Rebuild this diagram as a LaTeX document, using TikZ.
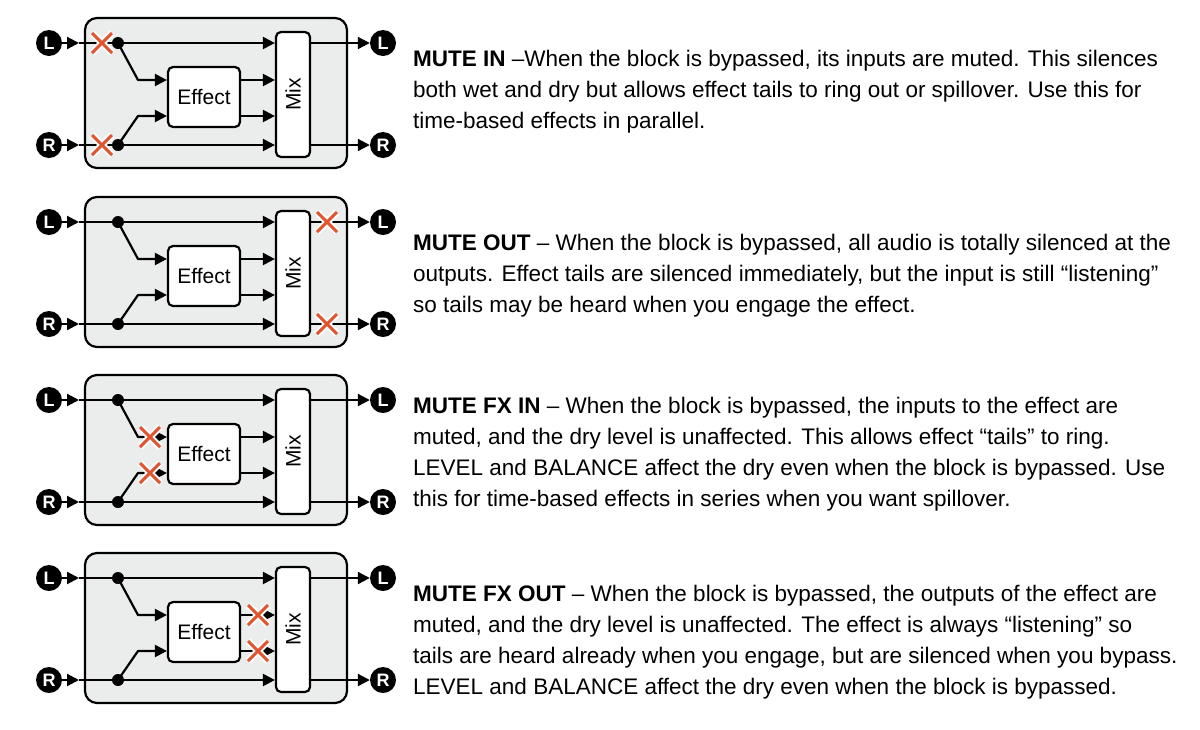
\documentclass[tikz,border=0pt]{standalone}
\usepackage{fontspec}
\setmainfont{Liberation Sans}
\usetikzlibrary{arrows.meta,calc}
\definecolor{boxgray}{HTML}{EBECEC}
\definecolor{xred}{HTML}{E05530}
\tikzset{
  wire/.style={line width=2.2pt,black},
  arr/.style={wire,-{Triangle[length=12pt,width=12pt]}},
  blk/.style={draw,line width=2.2pt,fill=white,rounded corners=5pt,inner sep=0pt},
  port/.style={circle,fill=black,minimum size=26pt,inner sep=0pt,text=white,font=\bfseries\fontsize{18}{18}\selectfont},
  dot/.style={circle,fill=black,minimum size=12pt,inner sep=0pt},
  desc/.style={anchor=west,inner sep=0pt,font=\fontsize{22.5}{22.5}\selectfont},
}
\newcommand\xmark[1]{%
  \draw[white,line width=7pt] ($(#1)+(-10,-10)$) -- ($(#1)+(10,10)$) ($(#1)+(-10,10)$) -- ($(#1)+(10,-10)$);
  \draw[xred,line width=3pt] ($(#1)+(-10,-10)$) -- ($(#1)+(10,10)$) ($(#1)+(-10,10)$) -- ($(#1)+(10,-10)$);}
\newcommand\blockdiag[2]{%
\begin{scope}[yshift=-#1pt]
  \draw[line width=2.2pt,fill=boxgray,rounded corners=12pt] (85,0) rectangle (347,150);
  \node[port] (iL#2) at (49,25) {L};
  \node[port] (iR#2) at (49,127) {R};
  \node[port] (oL#2) at (383,25) {L};
  \node[port] (oR#2) at (383,127) {R};
  \node[blk,minimum width=72pt,minimum height=60pt,font=\fontsize{21}{21}\selectfont] (fx#2) at (204,79) {Effect};
  \node[blk,minimum width=34pt,minimum height=125pt] (mix#2) at (293,76.5) {\rotatebox{90}{\fontsize{21}{21}\selectfont Mix}};
  \node[dot] (dL#2) at (118,25) {};
  \node[dot] (dR#2) at (118,127) {};
  \coordinate (eL#2) at (79,25);
  \coordinate (eR#2) at (79,127);
  \coordinate (kL#2) at (138,62);
  \coordinate (kR#2) at (138,98);
  \draw[arr] (iL#2) -- (eL#2);
  \draw[arr] (iR#2) -- (eR#2);
  \draw[wire] (eL#2) -- (dL#2);
  \draw[wire] (eR#2) -- (dR#2);
  \draw[arr] (dL#2) -- (dL#2 -| mix#2.west);
  \draw[arr] (dR#2) -- (dR#2 -| mix#2.west);
  \draw[arr,line join=round] (dL#2.center) -- (kL#2) -- (kL#2 -| fx#2.west);
  \draw[arr,line join=round] (dR#2.center) -- (kR#2) -- (kR#2 -| fx#2.west);
  \draw[arr] (fx#2.east |- kL#2) -- (kL#2 -| mix#2.west);
  \draw[arr] (fx#2.east |- kR#2) -- (kR#2 -| mix#2.west);
  \draw[arr] (dL#2 -| mix#2.east) -- (oL#2);
  \draw[arr] (dR#2 -| mix#2.east) -- (oR#2);
\end{scope}}
\begin{document}
\begin{tikzpicture}[x=1pt,y=-1pt]
\useasboundingbox (0,0) rectangle (1200,729);
\fill[white] (0,0) rectangle (1200,729);
\blockdiag{18}{a}
\blockdiag{197}{b}
\blockdiag{375}{c}
\blockdiag{553}{d}
\begin{scope}[yshift=-18pt]
  \coordinate (m1) at (102,25); \coordinate (m2) at (102,127);
  \xmark{m1}\xmark{m2}
\end{scope}
\begin{scope}[yshift=-197pt]
  \coordinate (m3) at (327,25); \coordinate (m4) at (327,127);
  \xmark{m3}\xmark{m4}
\end{scope}
\begin{scope}[yshift=-375pt]
  \coordinate (m5) at (150,62); \coordinate (m6) at (150,98);
  \xmark{m5}\xmark{m6}
\end{scope}
\begin{scope}[yshift=-553pt]
  \coordinate (m7) at (258,62); \coordinate (m8) at (258,98);
  \xmark{m7}\xmark{m8}
\end{scope}
\node[desc] (t1) at (413,61) {\textbf{MUTE IN} –When the block is bypassed, its inputs are muted. This silences};
\node[desc] (t2) at (413,92) {both wet and dry but allows effect tails to ring out or spillover. Use this for};
\node[desc] (t3) at (413,123) {time-based effects in parallel.};
\node[desc] (t4) at (413,245) {\textbf{MUTE OUT} – When the block is bypassed, all audio is totally silenced at the};
\node[desc] (t5) at (413,276) {outputs. Effect tails are silenced immediately, but the input is still “listening”};
\node[desc] (t6) at (413,307) {so tails may be heard when you engage the effect.};
\node[desc] (t7) at (413,408) {\textbf{MUTE FX IN} – When the block is bypassed, the inputs to the effect are};
\node[desc] (t8) at (413,439) {muted, and the dry level is unaffected. This allows effect “tails” to ring.};
\node[desc] (t9) at (413,470) {LEVEL and BALANCE affect the dry even when the block is bypassed. Use};
\node[desc] (t10) at (413,501) {this for time-based effects in series when you want spillover.};
\node[desc] (t11) at (413,596) {\textbf{MUTE FX OUT} – When the block is bypassed, the outputs of the effect are};
\node[desc] (t12) at (413,627) {muted, and the dry level is unaffected. The effect is always “listening” so};
\node[desc] (t13) at (413,658) {tails are heard already when you engage, but are silenced when you bypass.};
\node[desc] (t14) at (413,689) {LEVEL and BALANCE affect the dry even when the block is bypassed.};
\end{tikzpicture}
\end{document}
